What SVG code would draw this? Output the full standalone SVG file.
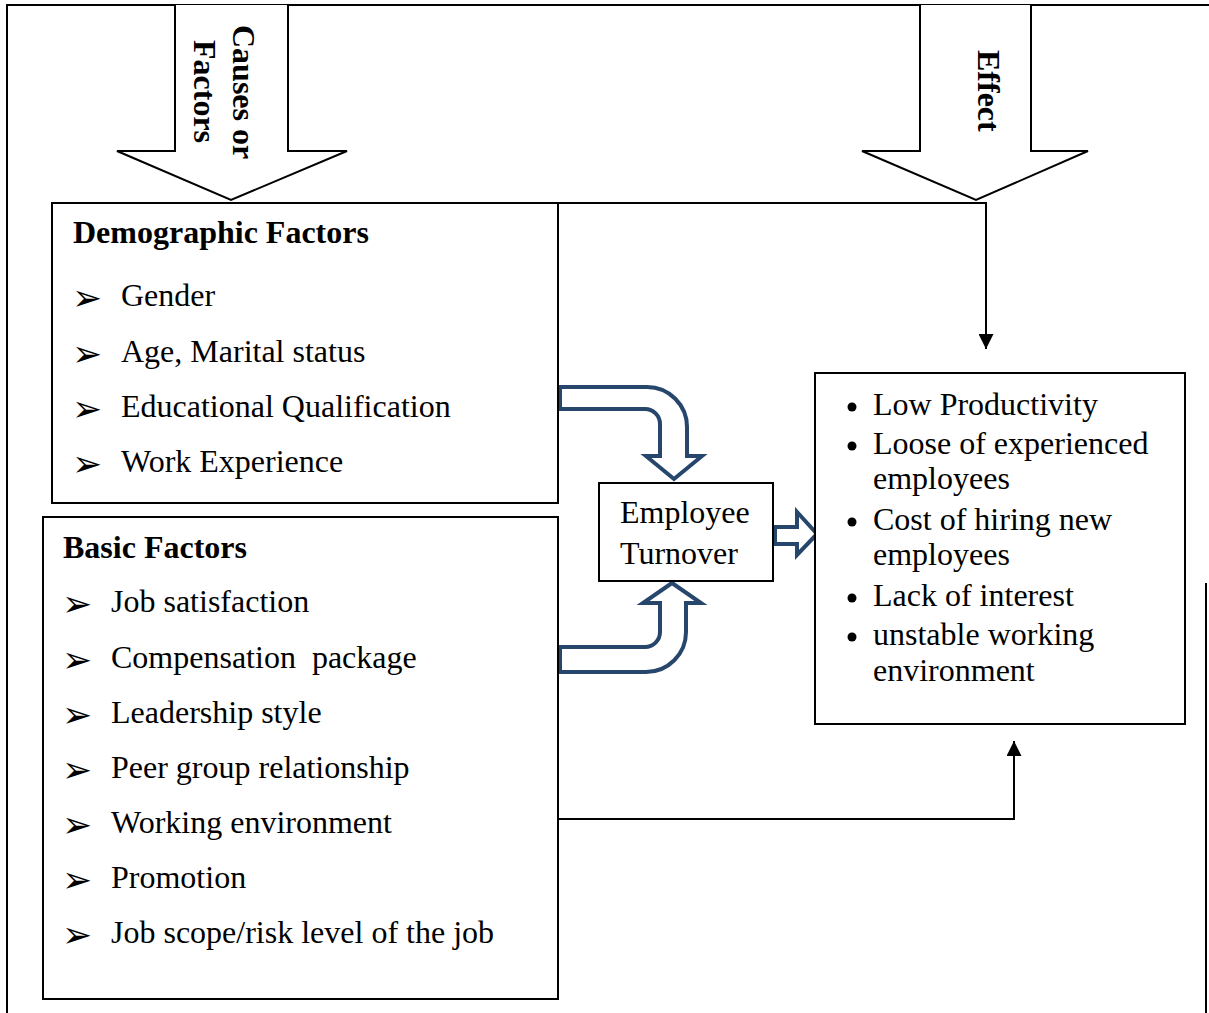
<svg xmlns="http://www.w3.org/2000/svg" width="1209" height="1013" viewBox="0 0 1209 1013">
  <style>
    .frame { fill: none; stroke: #000; stroke-width: 2; }
    .box { fill: #fff; stroke: #000; stroke-width: 2; }
    .bigarrow { fill: #fff; stroke: #000; stroke-width: 2; stroke-linejoin: miter; }
    .flow { fill: #fff; stroke: #27466b; stroke-width: 4; stroke-linejoin: miter; }
    .conn { fill: none; stroke: #000; stroke-width: 2; }
    text { font-family: "Liberation Serif", "Times New Roman", serif; font-size: 32px; fill: #000; }
    .head { font-weight: bold; }
    .mark { font-family: "DejaVu Sans", sans-serif; font-size: 36px; }
  </style>
  <defs>
    <marker id="tri15" viewBox="0 0 10 10" refX="10" refY="5" markerWidth="15" markerHeight="15" markerUnits="userSpaceOnUse" orient="auto">
      <path d="M0,0 L10,5 L0,10 Z" fill="#000"/>
    </marker>
  </defs>

  <!-- page frame -->
  <g id="frame">
    <path class="frame" d="M7,1013 V5 H1209"/>
    <path class="frame" d="M1206,583 V1013"/>
  </g>

  <!-- block arrow: causes -->
  <g id="causes">
    <path class="bigarrow" d="M175,5 V151 H117 L231,200 L347,151 H288 V5"/>
    <text class="head" transform="translate(233,25) rotate(90)">Causes or</text>
    <text class="head" transform="translate(194,40) rotate(90)">Factors</text>
  </g>

  <!-- block arrow: effect -->
  <g id="effect">
    <path class="bigarrow" d="M920,5 V151 H862 L976,200 L1088,151 H1031 V5"/>
    <text class="head" transform="translate(978,50) rotate(90)">Effect</text>
  </g>

  <!-- connectors -->
  <g id="connectors">
    <path class="conn" d="M558,203 H987"/>
    <path class="conn" d="M986,204 V349" marker-end="url(#tri15)"/>
    <path class="conn" d="M558,819 H1014 V741" marker-end="url(#tri15)"/>
    <path class="flow" d="M560,387 H647 A40,40 0 0 1 687,427 V456 H702 L674,479 L646,456 H660 V424 A15,15 0 0 0 645,409 H560 Z"/>
    <path class="flow" d="M560,672 H646 A40,40 0 0 0 686,632 V603 H701 L672,583 L643,603 H660 V632 A15,15 0 0 1 645,647 H560 Z"/>
    <path class="flow" d="M775,527 H797 V512 L817,534 L797,555 V544 H775 Z"/>
  </g>

  <!-- demographic factors -->
  <g id="demographic">
    <rect class="box" x="52" y="203" width="506" height="300"/>
    <text class="head" x="73" y="243">Demographic Factors</text>
    <text class="mark" x="72" y="310">➢</text>
    <text x="121" y="306">Gender</text>
    <text class="mark" x="72" y="366">➢</text>
    <text x="121" y="362">Age, Marital status</text>
    <text class="mark" x="72" y="421">➢</text>
    <text x="121" y="417">Educational Qualification</text>
    <text class="mark" x="72" y="476">➢</text>
    <text x="121" y="472">Work Experience</text>
  </g>

  <!-- basic factors -->
  <g id="basic">
    <rect class="box" x="43" y="517" width="515" height="482"/>
    <text class="head" x="63" y="558">Basic Factors</text>
    <text class="mark" x="62" y="616">➢</text>
    <text x="111" y="612">Job satisfaction</text>
    <text class="mark" x="62" y="672">➢</text>
    <text x="111" y="668" xml:space="preserve">Compensation  package</text>
    <text class="mark" x="62" y="727">➢</text>
    <text x="111" y="723">Leadership style</text>
    <text class="mark" x="62" y="782">➢</text>
    <text x="111" y="778">Peer group relationship</text>
    <text class="mark" x="62" y="837">➢</text>
    <text x="111" y="833">Working environment</text>
    <text class="mark" x="62" y="892">➢</text>
    <text x="111" y="888">Promotion</text>
    <text class="mark" x="62" y="947">➢</text>
    <text x="111" y="943">Job scope/risk level of the job</text>
  </g>

  <!-- employee turnover -->
  <g id="turnover">
    <rect class="box" x="599" y="483" width="174" height="98"/>
    <text x="620" y="523">Employee</text>
    <text x="620" y="564">Turnover</text>
  </g>

  <!-- outcomes -->
  <g id="outcomes">
    <rect class="box" x="815" y="373" width="370" height="351"/>
    <circle cx="852" cy="407" r="4.5"/>
    <text x="873" y="415">Low Productivity</text>
    <circle cx="852" cy="446" r="4.5"/>
    <text x="873" y="454">Loose of experienced</text>
    <text x="873" y="489">employees</text>
    <circle cx="852" cy="522" r="4.5"/>
    <text x="873" y="530">Cost of hiring new</text>
    <text x="873" y="565">employees</text>
    <circle cx="852" cy="598" r="4.5"/>
    <text x="873" y="606">Lack of interest</text>
    <circle cx="852" cy="637" r="4.5"/>
    <text x="873" y="645">unstable working</text>
    <text x="873" y="681">environment</text>
  </g>
</svg>
